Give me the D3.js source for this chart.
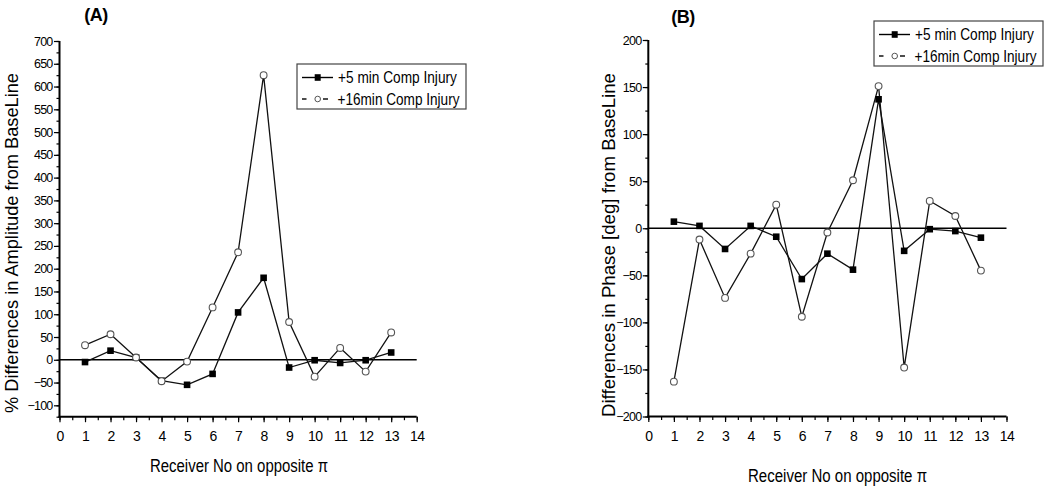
<!DOCTYPE html>
<html>
<head>
<meta charset="utf-8">
<script src="https://cdn.jsdelivr.net/npm/d3@7"></script>
<style>
  html, body { margin: 0; padding: 0; background: #fff; }
  svg { display: block; }
  text { font-family: "Liberation Sans", Arial, sans-serif; fill: #000; }
</style>
</head>
<body>
<svg id="chart" width="1050" height="487"></svg>
<script>
// ---------- DATA ----------
const receivers = [1, 2, 3, 4, 5, 6, 7, 8, 9, 10, 11, 12, 13];
const xTickValues = [0, 1, 2, 3, 4, 5, 6, 7, 8, 9, 10, 11, 12, 13, 14];
const seriesNames = ["+5 min Comp Injury", "+16min Comp Injury"];

const ampFiveMin    = [-5, 20, 5, -46, -55, -31, 104, 180, -17, -1, -7, -1, 16];
const ampSixteenMin = [32, 56, 5, -47, -4, 115, 236, 625, 83, -37, 26, -26, 60];
const ampTicks      = [-100, -50, 0, 50, 100, 150, 200, 250, 300, 350, 400, 450, 500, 550, 600, 650, 700];

const phaseFiveMin    = [7, 2.5, -22, 2.5, -9, -54, -27, -44, 137, -24, -1, -3, -10];
const phaseSixteenMin = [-163, -12, -74, -27, 25, -94, -4.5, 51, 151, -148, 29, 13, -45];
const phaseTicks      = [-200, -150, -100, -50, 0, 50, 100, 150, 200];

// ---------- LAYOUT ----------
const svg = d3.select("#chart");

const panels = [
  {
    title: "(A)", titleX: 96, titleY: 21,
    x0: 59.5, x1: 416.7, yTop: 41, yBot: 416.7,
    yDomain: [-125, 700], yTicks: ampTicks, yMinorStep: 25,
    five: ampFiveMin, sixteen: ampSixteenMin,
    yLabel: "% Differences in Amplitude from BaseLine", yLabelX: 18, yLabelY: 243, yLabelLen: 340,
    xLabel: "Receiver No on opposite \u03c0", xLabelX: 239, xLabelY: 471.5, xLabelLen: 178,
    legend: { x: 297, y: 64, w: 169, h: 45 }
  },
  {
    title: "(B)", titleX: 683, titleY: 23,
    x0: 648.3, x1: 1006.5, yTop: 40, yBot: 416.5,
    yDomain: [-200, 200], yTicks: phaseTicks, yMinorStep: 25,
    five: phaseFiveMin, sixteen: phaseSixteenMin,
    yLabel: "Differences in Phase [deg] from BaseLine", yLabelX: 615, yLabelY: 245, yLabelLen: 344,
    xLabel: "Receiver No on opposite \u03c0", xLabelX: 837.5, xLabelY: 481.5, xLabelLen: 179,
    legend: { x: 874, y: 21, w: 169, h: 45 }
  }
];

// horizontally squeeze a text to a target width via a scale transform
function squeezeText(sel, x, y, targetWidth) {
  const natural = sel.node().getComputedTextLength();
  const sx = Math.min(1, targetWidth / natural);
  sel.attr("x", 0).attr("y", 0).attr("transform", `translate(${x},${y}) scale(${sx},1)`);
}

panels.forEach(p => {
  const g = svg.append("g");
  const x = d3.scaleLinear().domain([0, 14]).range([p.x0, p.x1]);
  const y = d3.scaleLinear().domain(p.yDomain).range([p.yBot, p.yTop]);

  // minor y ticks
  const yMinor = d3.range(p.yDomain[0], p.yDomain[1] + 0.001, p.yMinorStep);
  g.append("g").attr("transform", `translate(${p.x0},0)`)
    .call(d3.axisLeft(y).tickValues(yMinor).tickSize(3).tickFormat(""))
    .call(a => a.select(".domain").remove())
    .call(a => a.selectAll("line").attr("stroke", "#000").attr("stroke-width", 1.2));
  // major y ticks
  g.append("g").attr("transform", `translate(${p.x0},0)`)
    .call(d3.axisLeft(y).tickValues(p.yTicks).tickSize(5.5).tickPadding(1.5).tickFormat(d3.format("d")))
    .call(a => a.select(".domain").remove())
    .call(a => a.selectAll("line").attr("stroke", "#000").attr("stroke-width", 1.2))
    .call(a => a.selectAll("text")
      .attr("font-family", "'Liberation Sans', Arial, sans-serif")
      .attr("font-size", 12.5).attr("letter-spacing", -0.8).attr("fill", "#000"));

  // minor x ticks
  g.append("g").attr("transform", `translate(0,${p.yBot})`)
    .call(d3.axisBottom(x).tickValues(d3.range(0, 14.01, 0.5)).tickSize(3.5).tickFormat(""))
    .call(a => a.select(".domain").remove())
    .call(a => a.selectAll("line").attr("stroke", "#000").attr("stroke-width", 1.2));
  // major x ticks
  g.append("g").attr("transform", `translate(0,${p.yBot})`)
    .call(d3.axisBottom(x).tickValues(xTickValues).tickSize(5.5).tickPadding(9).tickFormat(d3.format("d")))
    .call(a => a.select(".domain").remove())
    .call(a => a.selectAll("line").attr("stroke", "#000").attr("stroke-width", 1.2))
    .call(a => a.selectAll("text")
      .attr("font-family", "'Liberation Sans', Arial, sans-serif")
      .attr("font-size", 14).attr("letter-spacing", -0.6).attr("fill", "#000"));

  // axis lines
  g.append("line").attr("x1", p.x0).attr("x2", p.x0).attr("y1", y(p.yDomain[1])).attr("y2", p.yBot + 1)
    .attr("stroke", "#000").attr("stroke-width", 2);
  g.append("line").attr("x1", p.x0 - 1).attr("x2", x(14)).attr("y1", p.yBot).attr("y2", p.yBot)
    .attr("stroke", "#000").attr("stroke-width", 2);

  // zero line
  g.append("line").attr("x1", x(0)).attr("x2", x(14)).attr("y1", y(0)).attr("y2", y(0))
    .attr("stroke", "#000").attr("stroke-width", 1.5);

  const line = d3.line().x((d, i) => x(receivers[i])).y(d => y(d));

  g.append("path").datum(p.sixteen).attr("d", line)
    .attr("fill", "none").attr("stroke", "#111").attr("stroke-width", 1.3);
  g.append("path").datum(p.five).attr("d", line)
    .attr("fill", "none").attr("stroke", "#111").attr("stroke-width", 1.3);

  // square markers
  g.selectAll("rect.sq").data(p.five).enter().append("rect").attr("class", "sq")
    .attr("x", (d, i) => x(receivers[i]) - 3.3).attr("y", d => y(d) - 3.3)
    .attr("width", 6.6).attr("height", 6.6).attr("fill", "#000");
  // circle markers
  g.selectAll("circle.ci").data(p.sixteen).enter().append("circle").attr("class", "ci")
    .attr("cx", (d, i) => x(receivers[i])).attr("cy", d => y(d)).attr("r", 3.4)
    .attr("fill", "#fff").attr("stroke", "#555").attr("stroke-width", 1.1);

  // title
  g.append("text").attr("x", p.titleX).attr("y", p.titleY).attr("text-anchor", "middle")
    .attr("font-size", 18).attr("font-weight", "bold").attr("letter-spacing", -0.5).text(p.title);

  // y label
  g.append("text").attr("transform", `translate(${p.yLabelX},${p.yLabelY}) rotate(-90)`)
    .attr("text-anchor", "middle").attr("font-size", 18)
    .attr("textLength", p.yLabelLen).attr("lengthAdjust", "spacingAndGlyphs").text(p.yLabel);

  // x label
  g.append("text").attr("x", p.xLabelX).attr("y", p.xLabelY).attr("text-anchor", "middle")
    .attr("font-size", 18)
    .attr("textLength", p.xLabelLen).attr("lengthAdjust", "spacingAndGlyphs").text(p.xLabel);

  // legend
  const L = p.legend;
  const lg = g.append("g").attr("transform", `translate(${L.x},${L.y})`);
  lg.append("rect").attr("x", 0).attr("y", 0).attr("width", L.w).attr("height", L.h)
    .attr("fill", "#fff").attr("stroke", "#444").attr("stroke-width", 1.2);
  const r1 = 13.5, r2 = 35;
  // row 1
  lg.append("line").attr("x1", 5).attr("x2", 36).attr("y1", r1).attr("y2", r1)
    .attr("stroke", "#000").attr("stroke-width", 1.4);
  lg.append("rect").attr("x", 20.7 - 3).attr("y", r1 - 3.3).attr("width", 6).attr("height", 6.6).attr("fill", "#000");
  const t1 = lg.append("text").attr("font-size", 16.5).text(seriesNames[0]);
  squeezeText(t1, 41, 19, 119);
  // row 2
  lg.append("line").attr("x1", 5).attr("x2", 9.5).attr("y1", r2).attr("y2", r2)
    .attr("stroke", "#000").attr("stroke-width", 1.4);
  lg.append("line").attr("x1", 26).attr("x2", 31).attr("y1", r2).attr("y2", r2)
    .attr("stroke", "#000").attr("stroke-width", 1.4);
  lg.append("circle").attr("cx", 20.7).attr("cy", r2).attr("r", 2.8)
    .attr("fill", "#fff").attr("stroke", "#555").attr("stroke-width", 1);
  const t2 = lg.append("text").attr("font-size", 16.5).text(seriesNames[1]);
  squeezeText(t2, 40.5, 41, 122);
});
</script>
</body>
</html>
